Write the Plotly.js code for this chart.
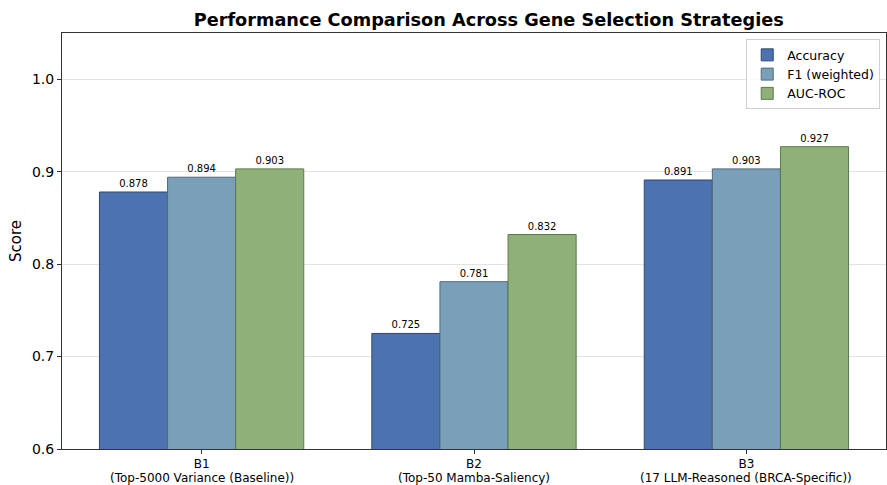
<!DOCTYPE html>
<html><head><meta charset="utf-8">
<script src="https://cdn.plot.ly/plotly-3.0.1.min.js"></script>
<style>body{margin:0;padding:0;background:#fff}#chart{width:887px;height:485px}</style>
</head><body><div id="chart"></div>
<script>
const groupCodes = ["B1", "B2", "B3"];
const groupDescriptions = ["(Top-5000 Variance (Baseline))", "(Top-50 Mamba-Saliency)", "(17 LLM-Reasoned (BRCA-Specific))"];
const accuracy = [0.878, 0.725, 0.891];
const f1Weighted = [0.894, 0.781, 0.903];
const aucRoc = [0.903, 0.832, 0.927];
const seriesNames = ["Accuracy", "F1 (weighted)", "AUC-ROC"];
const fills = ["#4c72b0", "#7a9fb8", "#8fb078"];
const edges = ["#2f4670", "#4f6b7d", "#5b7a4a"];
const font = "DejaVu Sans, sans-serif";
const xpos = groupCodes.map((_, i) => i);

const traces = [accuracy, f1Weighted, aucRoc].map((vals, i) => ({
  type: "bar", name: seriesNames[i], x: xpos, y: vals,
  marker: {color: fills[i], line: {color: edges[i], width: 1}},
  text: vals.map(v => v.toFixed(3)), textposition: "outside",
  textfont: {family: font, size: 10, color: "#000"}, cliponaxis: false,
  hoverinfo: "skip"
}));

const annotations = groupDescriptions.map((d, i) => ({
  text: d, x: i, xref: "x", y: -0.0697, yref: "paper", xanchor: "center", yanchor: "middle",
  showarrow: false, font: {family: font, size: 12, color: "#000"}
}));

const layout = {
  width: 887, height: 485,
  margin: {l: 62, r: 1, t: 33, b: 36},
  paper_bgcolor: "#fff", plot_bgcolor: "#fff",
  barmode: "group", bargap: 0.25, bargroupgap: 0,
  title: {text: "<b>Performance Comparison Across Gene Selection Strategies</b>", font: {family: font, size: 17.7, color: "#000"}, x: 0.551, xanchor: "center", y: 0.959, yanchor: "middle"},
  xaxis: {range: [-0.5125, 2.5125], tickvals: xpos, ticktext: groupCodes, showgrid: false, zeroline: false,
    showline: true, linecolor: "#333", linewidth: 1, mirror: true, ticks: "outside", ticklen: 4, tickcolor: "#333",
    tickfont: {family: font, size: 12, color: "#000"}},
  yaxis: {range: [0.6, 1.05], tickvals: [0.6,0.7,0.8,0.9,1.0], ticktext: ["0.6","0.7","0.8","0.9","1.0"],
    showgrid: true, gridcolor: "#e3e3e3", gridwidth: 1, zeroline: false,
    showline: true, linecolor: "#333", linewidth: 1, mirror: true, ticks: "outside", ticklen: 4, tickcolor: "#333",
    tickfont: {family: font, size: 14, color: "#000"},
    title: {text: "Score", font: {family: font, size: 15, color: "#000"}, standoff: 6}},
  legend: {x: 0.993, xanchor: "right", y: 0.985, yanchor: "top", bgcolor: "rgba(255,255,255,0.85)",
    bordercolor: "#d0d0d0", borderwidth: 1, font: {family: font, size: 12.5, color: "#000"}, tracegroupgap: 0},
  annotations: annotations,
  showlegend: true
};
Plotly.newPlot("chart", traces, layout, {displayModeBar: false, staticPlot: true});
</script></body></html>
